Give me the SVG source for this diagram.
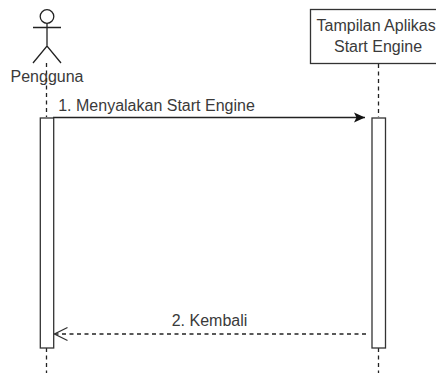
<svg xmlns="http://www.w3.org/2000/svg" width="436" height="373" viewBox="0 0 436 373">
<style>
.l{fill:none;stroke:#222;stroke-width:1.3}
.box{fill:#fff;stroke:#333;stroke-width:1.3}
.d{fill:none;stroke:#222;stroke-width:1.3;stroke-dasharray:4 3.5}
text{font-family:"Liberation Sans",Arial,sans-serif;font-size:16px;fill:#3a3a3a;text-anchor:middle}
</style>
<defs>
<marker id="fa" markerUnits="userSpaceOnUse" markerWidth="12" markerHeight="11" refX="11" refY="5.500" orient="auto"><path d="M0 .5L11 5.500L0 10.500L2.500 5.500Z" fill="#111"/></marker>
<marker id="oa" markerUnits="userSpaceOnUse" markerWidth="15" markerHeight="16" refX="14" refY="8" orient="auto"><path d="M1 1.500L14 8L1 14.500" fill="none" stroke="#333" stroke-width="1.3"/></marker>
</defs>
<g id="connectors">
<path class="d" d="M46.500 63V117"/>
<path class="d" d="M46.500 348V373"/>
<path class="d" d="M378.500 64V117"/>
<path class="d" d="M378.500 348V373"/>
<path class="l" d="M53 117.500H365" marker-end="url(#fa)"/>
<path class="d" d="M366 334H54.500" marker-end="url(#oa)"/>
</g>
<g id="actor-pengguna">
<circle class="l" cx="47" cy="16.500" r="6.800"/>
<path class="l" d="M47 23.500V46M33 27.500H61M33 63L47 46L61 63"/>
<text x="47" y="82">Pengguna</text>
</g>
<g id="node-tampilan">
<rect class="box" x="310.500" y="9.500" width="136" height="54"/>
<text x="316.500" y="31" style="text-anchor:start">Tampilan Aplikas</text>
<text x="378" y="52">Start Engine</text>
</g>
<g id="activation-pengguna"><rect class="box" x="40.300" y="118" width="13.400" height="230"/></g>
<g id="activation-tampilan"><rect class="box" x="372" y="118" width="13.500" height="230"/></g>
<g id="labels">
<text x="156.500" y="111">1. Menyalakan Start Engine</text>
<text x="209.500" y="326">2. Kembali</text>
</g>
</svg>
